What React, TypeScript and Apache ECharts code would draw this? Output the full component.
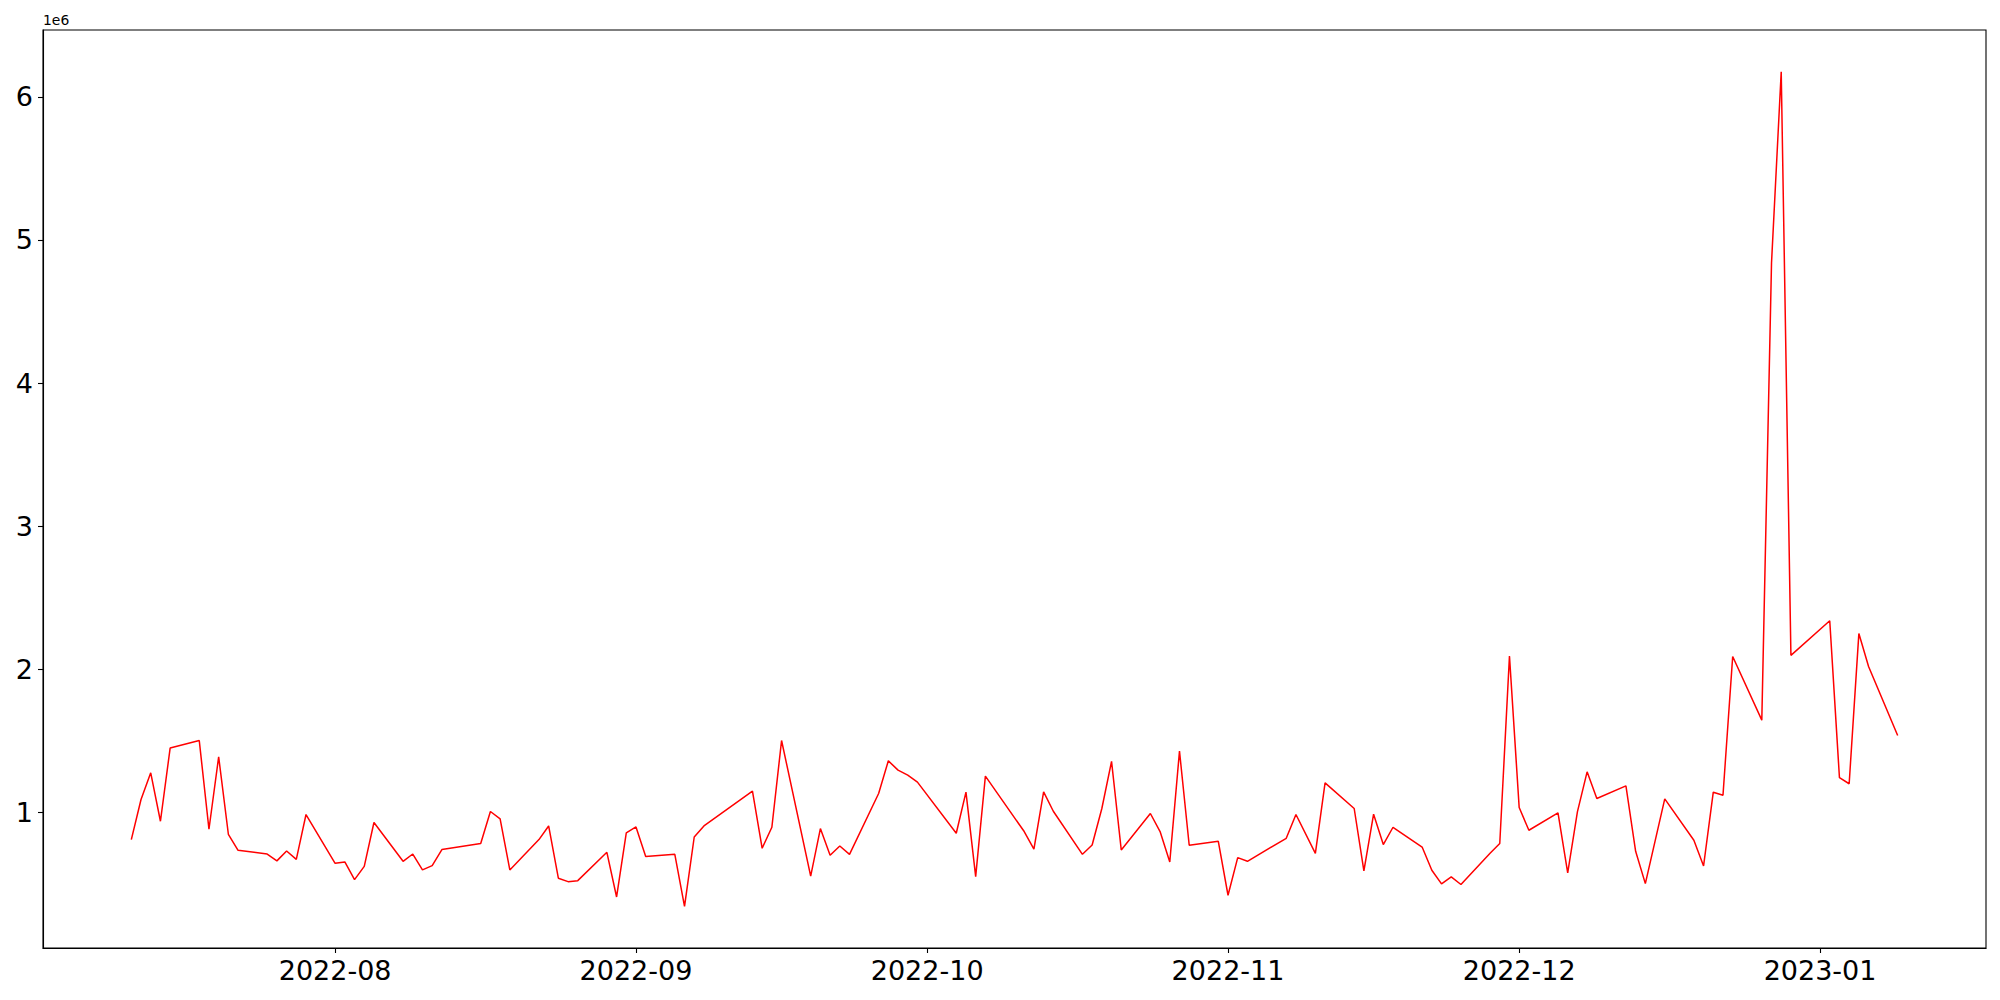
import React, { useEffect, useRef } from "react";
import * as echarts from "echarts";

const dates: string[] = [
  "2022-07-11", "2022-07-12", "2022-07-13", "2022-07-14", "2022-07-15",
  "2022-07-18", "2022-07-19", "2022-07-20", "2022-07-21", "2022-07-22",
  "2022-07-25", "2022-07-26", "2022-07-27", "2022-07-28", "2022-07-29",
  "2022-08-01", "2022-08-02", "2022-08-03", "2022-08-04", "2022-08-05",
  "2022-08-08", "2022-08-09", "2022-08-10", "2022-08-11", "2022-08-12",
  "2022-08-16", "2022-08-17", "2022-08-18", "2022-08-19",
  "2022-08-22", "2022-08-23", "2022-08-24", "2022-08-25", "2022-08-26",
  "2022-08-29", "2022-08-30", "2022-08-31", "2022-09-01", "2022-09-02",
  "2022-09-05", "2022-09-06", "2022-09-07", "2022-09-08",
  "2022-09-13", "2022-09-14", "2022-09-15", "2022-09-16",
  "2022-09-19", "2022-09-20", "2022-09-21", "2022-09-22", "2022-09-23",
  "2022-09-26", "2022-09-27", "2022-09-28", "2022-09-29", "2022-09-30",
  "2022-10-04", "2022-10-05", "2022-10-06", "2022-10-07",
  "2022-10-11", "2022-10-12", "2022-10-13", "2022-10-14",
  "2022-10-17", "2022-10-18", "2022-10-19", "2022-10-20", "2022-10-21",
  "2022-10-24", "2022-10-25", "2022-10-26", "2022-10-27", "2022-10-28",
  "2022-10-31", "2022-11-01", "2022-11-02", "2022-11-03",
  "2022-11-07", "2022-11-08", "2022-11-10", "2022-11-11",
  "2022-11-14", "2022-11-15", "2022-11-16", "2022-11-17", "2022-11-18",
  "2022-11-21", "2022-11-22", "2022-11-23", "2022-11-24", "2022-11-25",
  "2022-11-28", "2022-11-29", "2022-11-30", "2022-12-01", "2022-12-02",
  "2022-12-05", "2022-12-06", "2022-12-07", "2022-12-08", "2022-12-09",
  "2022-12-12", "2022-12-13", "2022-12-14", "2022-12-16",
  "2022-12-19", "2022-12-20", "2022-12-21", "2022-12-22", "2022-12-23",
  "2022-12-26", "2022-12-27", "2022-12-28", "2022-12-29",
  "2023-01-02", "2023-01-03", "2023-01-04", "2023-01-05", "2023-01-06",
  "2023-01-09",
];

const values: number[] = [
  811000, 1091000, 1277000, 939000, 1450000,
  1503000, 883000, 1389000, 848000, 736000,
  710000, 662000, 731000, 673000, 986000,
  645000, 655000, 531000, 624000, 930000,
  659000, 710000, 599000, 629000, 741000,
  783000, 1007000, 955000, 599000,
  811000, 906000, 541000, 517000, 524000,
  722000, 410000, 857000, 899000, 692000,
  708000, 345000, 829000, 906000,
  1149000, 750000, 897000, 1503000,
  555000, 888000, 701000, 766000, 708000,
  1133000, 1361000, 1296000, 1261000, 1212000,
  855000, 1142000, 552000, 1254000,
  867000, 745000, 1144000, 1009000,
  708000, 773000, 1028000, 1357000, 738000,
  993000, 867000, 655000, 1429000, 771000,
  799000, 422000, 685000, 659000,
  820000, 986000, 715000, 1207000,
  1028000, 592000, 988000, 776000, 897000,
  759000, 597000, 501000, 550000, 497000,
  715000, 783000, 2093000, 1035000, 876000,
  997000, 578000, 1004000, 1284000, 1098000,
  1186000, 729000, 503000, 1095000,
  806000, 627000, 1142000, 1121000, 2090000,
  1645000, 4839000, 6175000, 2098000,
  2340000, 1243000, 1201000, 2250000, 2020000,
  1538000,
];

const xTickDates: string[] = ["2022-08-01", "2022-09-01", "2022-10-01", "2022-11-01", "2022-12-01", "2023-01-01"];
const yTicks: number[] = [1000000, 2000000, 3000000, 4000000, 5000000, 6000000];
const offsetText = "1e6";

export default function App() {
  const ref = useRef<HTMLDivElement>(null);

  useEffect(() => {
    if (!ref.current) return;
    const chart = echarts.init(ref.current, null, { renderer: "svg" });

    const xs = dates.map((d) => Date.parse(d));
    const points = xs.map((x, i) => [x, values[i]]);
    const xMinD = Math.min(...xs);
    const xMaxD = Math.max(...xs);
    const xm = (xMaxD - xMinD) * 0.05;
    const yMinD = Math.min(...values);
    const yMaxD = Math.max(...values);
    const ym = (yMaxD - yMinD) * 0.05;
    const xTicks = xTickDates.map((d) => Date.parse(d));

    const fmtDate = (v: number) => {
      const d = new Date(v);
      const m = d.getUTCMonth() + 1;
      return `${d.getUTCFullYear()}-${m < 10 ? "0" + m : m}`;
    };

    chart.setOption({
      animation: false,
      backgroundColor: "#ffffff",
      grid: {
        left: 43,
        top: 30,
        right: 14,
        bottom: 52,
        show: true,
        borderColor: "#000000",
        borderWidth: 1.1,
        containLabel: false,
      },
      xAxis: {
        type: "value",
        min: xMinD - xm,
        max: xMaxD + xm,
        splitLine: { show: false },
        axisLine: { show: true, lineStyle: { color: "#000000", width: 1.1 } },
        axisTick: {
          show: true,
          length: 5,
          lineStyle: { color: "#000000", width: 1.1 },
          customValues: xTicks,
        },
        axisLabel: {
          show: true,
          customValues: xTicks,
          formatter: (v: number) => fmtDate(v),
          color: "#000000",
          fontFamily: "DejaVu Sans",
          fontSize: 27,
          margin: 9,
        },
      },
      yAxis: {
        type: "value",
        min: yMinD - ym,
        max: yMaxD + ym,
        splitLine: { show: false },
        axisLine: { show: true, lineStyle: { color: "#000000", width: 1.1 } },
        axisTick: {
          show: true,
          length: 5,
          lineStyle: { color: "#000000", width: 1.1 },
          customValues: yTicks,
        },
        axisLabel: {
          show: true,
          customValues: yTicks,
          formatter: (v: number) => String(Math.round(v / 1e6)),
          color: "#000000",
          fontFamily: "DejaVu Sans",
          fontSize: 27,
          margin: 10,
        },
      },
      graphic: [
        {
          type: "text",
          left: 43,
          top: 13,
          style: {
            text: offsetText,
            fill: "#000000",
            fontFamily: "DejaVu Sans",
            fontSize: 13.9,
          },
        },
      ],
      series: [
        {
          type: "line",
          data: points,
          showSymbol: false,
          symbol: "none",
          lineStyle: { color: "#ff0000", width: 1.5 },
          itemStyle: { color: "#ff0000" },
        },
      ],
    });

    return () => {
      chart.dispose();
    };
  }, []);

  return (
    <div
      ref={ref}
      style={{ position: "absolute", left: 0, top: 0, width: 2000, height: 1000, background: "#fff" }}
    />
  );
}
